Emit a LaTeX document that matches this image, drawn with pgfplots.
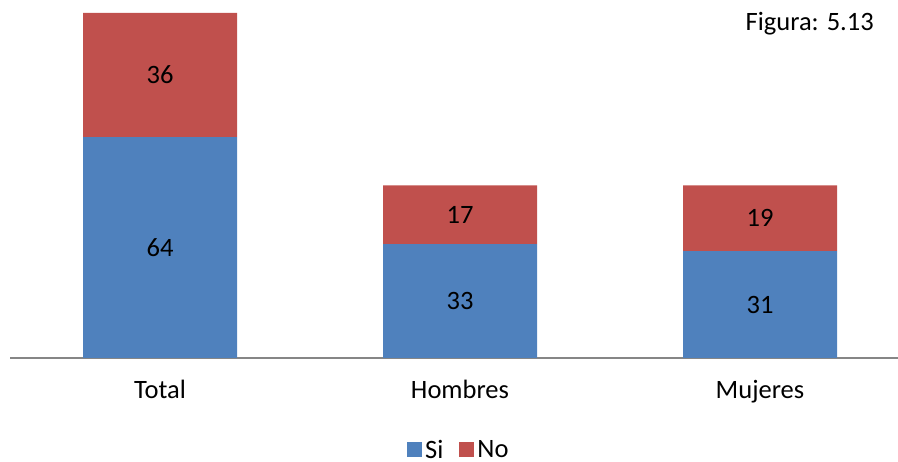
\documentclass[border=0pt]{standalone}
\usepackage{pgfplots}
\pgfplotsset{compat=1.18}
\usepackage{fontspec}
\setmainfont{Carlito}

\definecolor{siblue}{HTML}{4F81BD}
\definecolor{nored}{HTML}{C0504D}
\definecolor{axisgray}{HTML}{868686}

\newcommand{\chartfont}{\fontsize{26.5}{31}\selectfont}

\begin{document}
\begin{tikzpicture}
\path[use as bounding box] (-10pt,-104pt) rectangle (888pt,358pt);
\begin{axis}[
  at={(0pt,0pt)}, anchor=south west,
  scale only axis, width=888pt, height=345pt,
  ybar stacked, bar width=154pt,
  xmin=-0.5, xmax=2.46, ymin=0, ymax=100,
  xtick={0,1,2}, xticklabels={Total,Hombres,Mujeres},
  axis x line*=bottom, axis y line=none,
  x axis line style={axisgray, line width=1.5pt, -},
  xtick style={draw=none},
  xticklabel style={anchor=base, yshift=-41pt, font=\chartfont},
  /pgf/number format/assume math mode=true,
  % value labels centred in their own segment
  nodes near coords,
  nodes near coords align=center,
  every node near coord/.append style={font=\chartfont, black, anchor=center},
  legend columns=2,
  legend style={
    at={(0.506,-0.265)}, anchor=center, draw=none,
    font=\chartfont, inner xsep=0pt, inner ysep=0pt,
    nodes={inner xsep=3pt, inner ysep=0pt, text depth=0pt},
    /tikz/every even column/.append style={column sep=13pt}
  },
]
\addplot[fill=siblue, draw=none,
  legend image code/.code={\fill[siblue] (0pt,-7.5pt) rectangle (15pt,7.5pt);}]
  coordinates {(0,64) (1,33) (2,31)};
\addplot[fill=nored, draw=none,
  legend image code/.code={\fill[nored] (0pt,-7.5pt) rectangle (15pt,7.5pt);}]
  coordinates {(0,36) (1,17) (2,19)};
\legend{Si, No}
\end{axis}
\node[anchor=base east, font=\chartfont, inner sep=0pt] at (864pt,327.5pt) {Figura: 5.13};
\end{tikzpicture}
\end{document}
